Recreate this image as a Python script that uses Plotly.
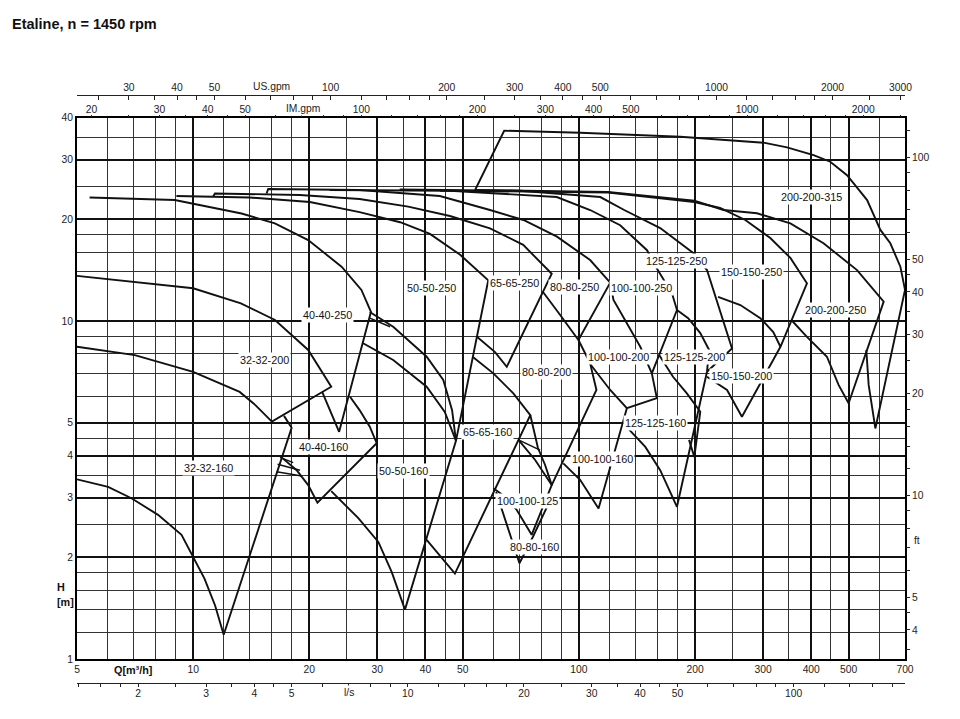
import numpy as np
import plotly.graph_objects as go

# pump areas, Q [m3/h] and H [m]
# each list runs: max impeller curve -> right limit -> min impeller curve (back)
q_32_32_160 = [17.2, 18.0, 12.0, 11.4, 10.7, 10.0, 9.33, 8.11, 6.92, 6.02, 5.0]
h_32_32_160 = [5.24, 4.83, 1.18, 1.44, 1.73, 2.01, 2.33, 2.67, 2.99, 3.23, 3.40]

q_32_32_200 = [5.0, 7.06, 10.0, 13.3, 16.3, 19.87, 22.8, 16.0, 14.5, 13.2, 10.0, 7.06, 5.0]
h_32_32_200 = [13.6, 13.07, 12.5, 11.28, 10.07, 8.21, 6.39, 5.04, 5.64, 6.17, 7.07, 7.93, 8.39]

q_40_40_250 = [5.39, 8.96, 13.35, 16.29, 19.87, 24.25, 27.3, 28.9, 23.9, 22.6, 21.6]
h_40_40_250 = [23.2, 22.8, 20.8, 19.45, 17.36, 14.48, 12.36, 10.65, 4.70, 5.45, 6.17]

q_40_40_160 = [25.5, 27.0, 28.7, 29.9, 21.0, 19.87, 18.55, 16.95]
h_40_40_160 = [5.97, 5.45, 4.87, 4.35, 2.90, 3.27, 3.62, 3.95]

q_50_50_250 = [9.05, 14.0, 20.07, 27.0, 34.4, 41.1, 49.2, 58.2, 48.0, 46.9, 44.5, 40.3, 33.0, 28.7]
h_50_50_250 = [23.43, 23.2, 22.5, 21.0, 19.6, 18.1, 15.7, 13.2, 4.42, 5.45, 6.69, 7.84, 9.62, 10.63]

q_50_50_160 = [27.5, 33.0, 40.3, 44.9, 48.0, 35.4, 32.7, 30.2, 26.8, 22.8]
h_50_50_160 = [8.61, 7.67, 6.39, 5.38, 4.42, 1.40, 1.81, 2.22, 2.61, 3.14]

q_65_65_250 = [11.27, 11.39, 18.9, 27.0, 36.1, 46.3, 58.8, 71.7, 85.0, 65.0, 60.6, 54.4]
h_65_65_250 = [23.35, 23.84, 23.6, 22.96, 21.8, 20.45, 18.8, 16.8, 13.8, 7.32, 8.09, 8.98]

q_65_65_160 = [53.1, 60.0, 67.6, 74.8, 47.7, 43.6, 40.3]
h_65_65_160 = [7.83, 7.00, 6.11, 5.27, 1.79, 2.03, 2.25]

q_80_80_250 = [15.5, 15.65, 27.0, 43.6, 58.8, 71.8, 87.7, 106.9, 120.5, 99.7, 89.4, 80.6]
h_80_80_250 = [23.84, 24.58, 24.42, 23.43, 21.3, 19.9, 17.77, 15.15, 12.98, 8.79, 10.42, 12.21]

q_80_80_200 = [99.7, 106.9, 111.0, 85.0, 81.7, 78.3, 74.8]
h_80_80_200 = [8.79, 7.50, 6.25, 3.27, 3.75, 4.21, 5.27]

q_80_80_160 = [61.0, 63.1, 67.0, 70.1, 76.0, 84.2]
h_80_80_160 = [3.12, 2.76, 2.25, 1.92, 2.30, 2.95]

q_100_100_125 = [69.7, 77.0, 85.0, 75.4, 69.0, 64.3, 60.0]
h_100_100_125 = [4.45, 3.88, 3.27, 2.33, 2.76, 3.02, 3.20]

q_100_100_250 = [22.6, 46.3, 87.6, 106.9, 127.9, 150.1, 159.2, 174.2, 179.5, 154.5, 144.2, 131.7, 122.9, 120.5]
h_100_100_250 = [24.42, 24.3, 23.27, 21.3, 19.2, 16.2, 14.3, 12.08, 10.78, 7.00, 8.39, 10.07, 11.54, 12.96]

q_100_100_200 = [154.5, 159.2, 133.1, 120.5, 106.9]
h_100_100_200 = [7.00, 5.91, 5.52, 6.25, 7.46]

q_100_100_160 = [133.1, 112.4, 100.7, 91.1]
h_100_100_160 = [5.52, 2.79, 3.39, 3.79]

q_125_125_250 = [34.3, 70.4, 113.6, 131.0, 162.4, 198.2, 214.7, 227.3, 249.3, 214.7, 217.5, 206.3, 191.9, 179.5]
h_125_125_250 = [24.5, 24.3, 23.27, 21.3, 18.84, 15.86, 14.15, 11.54, 8.30, 7.08, 8.21, 9.21, 10.2, 10.78]

q_125_125_200 = [161.4, 175.3, 190.4, 206.3, 199.1, 192.9]
h_125_125_200 = [7.93, 6.84, 6.11, 5.39, 3.96, 4.45]

q_125_125_160 = [214.7, 179.5, 162.4, 148.6, 134.0]
h_125_125_160 = [7.08, 2.82, 3.62, 4.24, 4.81]

q_150_150_250 = [43.6, 118.9, 199.1, 232.2, 269.9, 313.3, 353.2, 389.9, 332.9, 318.9, 295.2, 262.0, 229.4]
h_150_150_250 = [24.3, 24.0, 22.5, 21.6, 19.9, 17.6, 15.37, 12.93, 8.39, 9.28, 10.2, 11.15, 11.78]

q_150_150_200 = [332.9, 264.5, 242.0, 214.7]
h_150_150_200 = [8.39, 5.21, 6.25, 6.84]

q_200_200_250 = [53.8, 118.9, 199.1, 236.9, 289.5, 353.2, 430.4, 525.8, 616.4, 500.0, 470.9, 439.3, 389.9, 355.3]
h_200_200_250 = [24.42, 24.08, 22.7, 21.3, 20.83, 19.45, 16.98, 14.15, 11.41, 5.71, 6.47, 7.84, 8.98, 10.07]

q_200_200_315 = [53.8, 64.0, 100.7, 183.1, 301.0, 346.2, 405.6, 448.1, 495.2, 558.4, 604.3, 641.3, 681.0, 700.0, 586.5, 563.5, 555.7]
h_200_200_315 = [24.42, 36.56, 36.06, 35.1, 33.7, 32.65, 30.98, 29.6, 27.0, 22.8, 18.6, 16.98, 14.48, 12.36, 4.81, 6.47, 8.21]

# short extra impeller strokes
q_strokes = [[16.8, 18.17], [16.55, 18.92], [16.46, 19.1], [28.7, 32.4], [69.7, 79.3]]
h_strokes = [[3.95, 3.81], [3.77, 3.62], [3.58, 3.48], [10.2, 9.62], [4.45, 4.15]]

# size labels
label_names = ["32-32-160", "32-32-200", "40-40-250", "40-40-160", "50-50-250", "50-50-160",
               "65-65-250", "65-65-160", "80-80-250", "80-80-200", "80-80-160", "100-100-125",
               "100-100-160", "100-100-200", "100-100-250", "125-125-160", "125-125-200",
               "125-125-250", "150-150-200", "150-150-250", "200-200-250", "200-200-315"]
label_q = [10.98, 15.3, 22.3, 21.8, 41.6, 35.0, 68.2, 58.0, 97.2, 82.5, 76.6, 73.6,
           115.2, 126.6, 145.6, 157.6, 199.1, 179.5, 264.5, 279.9, 461.8, 400.0]
label_h = [3.68, 7.67, 10.42, 4.25, 12.5, 3.61, 12.93, 4.70, 12.64, 7.08, 2.15, 2.93,
           3.90, 7.81, 12.5, 5.00, 7.84, 15.08, 6.89, 13.94, 10.78, 23.23]

# axis ticks
q_major = [5, 10, 20, 30, 40, 50, 100, 200, 300, 400, 500, 700]
q_minor = [6, 7, 8, 9, 12, 14, 16, 18, 25, 35, 45, 60, 70, 80, 90, 120, 140, 160, 180, 250, 350, 450, 600]
h_major = [1, 2, 3, 4, 5, 10, 20, 30, 40]
h_minor = [1.2, 1.4, 1.6, 1.8, 2.5, 3.5, 4.5, 6, 7, 8, 9, 14, 16, 18, 25, 35]
us_major = [30, 40, 50, 100, 200, 300, 400, 500, 1000, 2000, 3000]
us_minor = [25, 35, 45, 60, 70, 80, 90, 120, 140, 160, 180, 250, 350, 450, 600, 700, 800, 900,
            1200, 1400, 1600, 1800, 2500]
im_major = [20, 30, 40, 50, 100, 200, 300, 400, 500, 1000, 2000]
im_minor = [25, 35, 45, 60, 70, 80, 90, 120, 140, 160, 180, 250, 350, 450, 600, 700, 800, 900,
            1200, 1400, 1600, 1800, 2500]
ls_major = [2, 3, 4, 5, 10, 20, 30, 40, 50, 100]
ls_minor = [1.4, 1.6, 1.8, 2.5, 3.5, 4.5, 6, 7, 8, 9, 12, 14, 16, 18, 25, 35, 45, 60, 70, 80, 90,
            120, 140, 160, 180]
ft_major = [4, 5, 10, 20, 30, 40, 50, 100]
ft_minor = [3.5, 4.5, 6, 7, 8, 9, 12, 14, 16, 18, 25, 35, 45, 60, 70, 80, 90, 120]

US_GPM = 4.402868
IM_GPM = 3.666154
LPS = 1 / 3.6
FT = 3.28084

pumps = [
    (q_32_32_160, h_32_32_160), (q_32_32_200, h_32_32_200), (q_40_40_250, h_40_40_250),
    (q_40_40_160, h_40_40_160), (q_50_50_250, h_50_50_250), (q_50_50_160, h_50_50_160),
    (q_65_65_250, h_65_65_250), (q_65_65_160, h_65_65_160), (q_80_80_250, h_80_80_250),
    (q_80_80_200, h_80_80_200), (q_80_80_160, h_80_80_160), (q_100_100_125, h_100_100_125),
    (q_100_100_250, h_100_100_250), (q_100_100_200, h_100_100_200), (q_100_100_160, h_100_100_160),
    (q_125_125_250, h_125_125_250), (q_125_125_200, h_125_125_200), (q_125_125_160, h_125_125_160),
    (q_150_150_250, h_150_150_250), (q_150_150_200, h_150_150_200),
    (q_200_200_250, h_200_200_250), (q_200_200_315, h_200_200_315),
]

FONT = "Liberation Sans, Arial, sans-serif"
INK = "#111111"

# page body keeps an 8px margin, so the figure is 8px smaller than the window
W, H = 952, 711

fig = go.Figure()

for q, h in pumps:
    fig.add_trace(go.Scatter(x=q, y=h, mode="lines", line=dict(color=INK, width=1.9),
                             hoverinfo="skip", showlegend=False))

for q, h in zip(q_strokes, h_strokes):
    fig.add_trace(go.Scatter(x=q, y=h, mode="lines", line=dict(color=INK, width=1.5),
                             hoverinfo="skip", showlegend=False))

# empty traces so the extra unit axes get drawn
for xa, ya in [("x2", "y"), ("x3", "y"), ("x4", "y"), ("x", "y2")]:
    fig.add_trace(go.Scatter(x=[], y=[], xaxis=xa, yaxis=ya, showlegend=False, hoverinfo="skip"))

for name, q, h in zip(label_names, label_q, label_h):
    fig.add_annotation(x=np.log10(q), y=np.log10(h), xref="x", yref="y", text=name,
                       showarrow=False, bgcolor="white", borderpad=1,
                       xanchor="center", yanchor="middle",
                       font=dict(family=FONT, size=10.8, color=INK))

tick_font = dict(family=FONT, size=10.3, color="#222222")


def labels(vals):
    return [str(v) for v in vals]


fig.update_layout(
    width=W, height=H,
    margin=dict(l=69, r=55, t=87, b=36),
    plot_bgcolor="white", paper_bgcolor="white",
    showlegend=False,
    title=dict(text="Etaline, n = 1450 rpm", x=4 / W, y=1 - 16 / H,
               xref="container", yref="container", xanchor="left", yanchor="middle",
               font=dict(family=FONT, size=14.5, color=INK, weight="bold")),
    xaxis=dict(type="log", range=[np.log10(5), np.log10(700)], domain=[0, 1], anchor="y",
               tickmode="array", tickvals=q_major, ticktext=labels(q_major), ticks="",
               showgrid=True, gridcolor="#111111", gridwidth=2,
               minor=dict(tickmode="array", tickvals=q_minor, showgrid=True,
                          gridcolor="#333333", gridwidth=1.3, ticks=""),
               showline=True, linecolor="black", linewidth=2, mirror=True,
               zeroline=False, tickfont=tick_font),
    yaxis=dict(type="log", range=[0, np.log10(40)], domain=[0.0408, 0.9617], anchor="x",
               tickmode="array", tickvals=h_major, ticktext=labels(h_major), ticks="",
               showgrid=True, gridcolor="#111111", gridwidth=2,
               minor=dict(tickmode="array", tickvals=h_minor, showgrid=True,
                          gridcolor="#333333", gridwidth=1.3, ticks=""),
               showline=True, linecolor="black", linewidth=2, mirror=True,
               zeroline=False, tickfont=tick_font),
    xaxis2=dict(type="log", overlaying="x", anchor="free", position=1, side="top",
                range=[np.log10(5 * US_GPM), np.log10(700 * US_GPM)],
                tickmode="array", tickvals=us_major, ticktext=labels(us_major),
                ticks="inside", ticklen=4, tickcolor="#222222",
                minor=dict(tickmode="array", tickvals=us_minor, ticks="inside", ticklen=4,
                           tickcolor="#222222", showgrid=False),
                showgrid=False, showline=True, linecolor="#222222", linewidth=1.2,
                zeroline=False, tickfont=tick_font),
    xaxis3=dict(type="log", overlaying="x", anchor="y", side="top",
                range=[np.log10(5 * IM_GPM), np.log10(700 * IM_GPM)],
                tickmode="array", tickvals=im_major, ticktext=labels(im_major),
                ticks="outside", ticklen=2, tickcolor="#222222", ticklabelstandoff=-3,
                minor=dict(tickmode="array", tickvals=im_minor, ticks="outside", ticklen=2,
                           tickcolor="#222222", showgrid=False),
                showgrid=False, showline=False, zeroline=False, tickfont=tick_font),
    xaxis4=dict(type="log", overlaying="x", anchor="free", position=0, side="bottom",
                range=[np.log10(5 * LPS), np.log10(700 * LPS)],
                tickmode="array", tickvals=ls_major, ticktext=labels(ls_major),
                ticks="outside", ticklen=3, tickcolor="#222222", ticklabelstandoff=-2,
                minor=dict(tickmode="array", tickvals=ls_minor, ticks="outside", ticklen=3,
                           tickcolor="#222222", showgrid=False),
                showgrid=False, showline=True, linecolor="#222222", linewidth=1.2,
                zeroline=False, tickfont=tick_font),
    yaxis2=dict(type="log", overlaying="y", anchor="x", side="right",
                range=[np.log10(FT), np.log10(40 * FT)],
                tickmode="array", tickvals=ft_major, ticktext=labels(ft_major),
                ticks="outside", ticklen=4, tickcolor="#222222",
                minor=dict(tickmode="array", tickvals=ft_minor, ticks="outside", ticklen=4,
                           tickcolor="#222222", showgrid=False),
                showgrid=False, showline=False, zeroline=False, tickfont=tick_font),
)

axis_text = dict(family=FONT, size=10.8, color=INK)
side_text = [
    # text, x, y, xref, xanchor, bold-font?, white box?
    ("<b>Q[m³/h]</b>", np.log10(7.0), 0.0221, "x", "center", axis_text, False),
    ("<b>H</b>", -0.0266, 0.1638, "paper", "left", axis_text, False),
    ("<b>[m]</b>", -0.0266, 0.1383, "paper", "left", axis_text, False),
    ("ft", 1.0085, 0.2415, "paper", "left", tick_font, False),
    ("US.gpm", 0.2343, 1.0153, "paper", "center", tick_font, True),
    ("IM.gpm", 0.273, 0.9762, "paper", "center", tick_font, True),
    ("l/s", 0.3281, -0.0165, "paper", "center", tick_font, True),
]
for text, x, y, xref, xanchor, font, box in side_text:
    fig.add_annotation(x=x, y=y, xref=xref, yref="paper", text=text, showarrow=False,
                       xanchor=xanchor, yanchor="middle", font=font,
                       bgcolor="white" if box else "rgba(0,0,0,0)")

fig.write_html("out.html")
